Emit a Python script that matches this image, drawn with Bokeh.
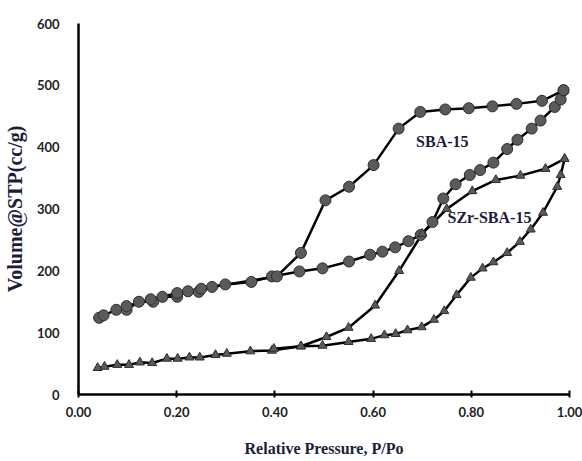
from bokeh.plotting import figure
from bokeh.models import Range1d, Label, FixedTicker
from bokeh.embed import file_html
from bokeh.resources import INLINE

# SBA-15 adsorption branch
sba_ads_x = [0.042, 0.051, 0.077, 0.098, 0.123, 0.152, 0.171, 0.201, 0.223, 0.245, 0.272, 0.299,
             0.352, 0.394, 0.450, 0.497, 0.551, 0.594, 0.619, 0.645, 0.672, 0.697, 0.721, 0.743,
             0.768, 0.797, 0.818, 0.845, 0.873, 0.894, 0.923, 0.941, 0.970, 0.982, 0.988]
sba_ads_y = [124, 128, 137, 137, 150, 150, 158, 158, 167, 166, 174, 178,
             182, 191, 199, 204, 215, 226, 231, 238, 248, 258, 279, 317,
             340, 355, 363, 375, 397, 412, 430, 443, 465, 477, 492]
# SBA-15 desorption branch
sba_des_x = [0.988, 0.944, 0.892, 0.843, 0.795, 0.747, 0.696, 0.652, 0.601, 0.551, 0.503, 0.453,
             0.404, 0.250, 0.201, 0.147, 0.098]
sba_des_y = [492, 475, 470, 466, 463, 461, 457, 430, 371, 336, 314, 229,
             191, 171, 164, 154, 143]
# SZr-SBA-15 adsorption branch
szr_ads_x = [0.039, 0.053, 0.079, 0.103, 0.125, 0.150, 0.180, 0.202, 0.226, 0.247, 0.279, 0.302,
             0.350, 0.394, 0.453, 0.497, 0.550, 0.596, 0.623, 0.646, 0.670, 0.699, 0.724, 0.745,
             0.770, 0.799, 0.823, 0.845, 0.873, 0.899, 0.921, 0.946, 0.975, 0.982, 0.990]
szr_ads_y = [43, 45, 48, 48, 52, 51, 58, 58, 60, 60, 64, 66,
             70, 71, 78, 79, 85, 90, 96, 98, 104, 109, 121, 135,
             161, 189, 204, 214, 229, 247, 267, 294, 336, 355, 381]
# SZr-SBA-15 desorption branch
szr_des_x = [0.990, 0.951, 0.900, 0.850, 0.802, 0.750, 0.700, 0.653, 0.604, 0.550, 0.505, 0.453, 0.398]
szr_des_y = [381, 365, 354, 347, 329, 300, 260, 200, 144, 108, 93, 78, 74]

series_labels = ["SBA-15", "SZr-SBA-15"]
label_x = [0.741, 0.837]
label_y = [409, 286]

x_ticks = [0.0, 0.2, 0.4, 0.6, 0.8, 1.0]
y_ticks = [0, 100, 200, 300, 400, 500, 600]

p = figure(width=582, height=461, output_backend="svg", toolbar_location=None,
           x_range=Range1d(0, 1), y_range=Range1d(0, 600),
           min_border_left=78, min_border_right=13, min_border_top=23, min_border_bottom=67)
p.outline_line_color = None
p.xgrid.visible = False
p.ygrid.visible = False
p.background_fill_color = "white"
p.border_fill_color = "white"

TEXT = "#1c1c3a"

p.xaxis.ticker = FixedTicker(ticks=x_ticks)
p.yaxis.ticker = FixedTicker(ticks=y_ticks)
p.xaxis.major_label_overrides = {t: f"{t:.2f}" for t in x_ticks}
p.xaxis.minor_tick_line_color = None
p.yaxis.minor_tick_line_color = None
p.yaxis.major_tick_line_color = None
p.xaxis.major_tick_in = 4
p.xaxis.major_tick_out = 3
p.xaxis.major_tick_line_width = 2
p.xaxis.axis_line_width = 2.5
p.yaxis.axis_line_width = 2.5
for ax in (p.xaxis, p.yaxis):
    ax.major_label_text_font = "Lato"
    ax.major_label_text_font_style = "bold"
    ax.major_label_text_font_size = "13px"
    ax.major_label_text_color = "#222222"
    ax.axis_label_text_font = "Liberation Serif"
    ax.axis_label_text_font_style = "bold"
    ax.axis_label_text_color = TEXT
p.xaxis.axis_label_text_font_size = "16px"
p.yaxis.axis_label_text_font_size = "20px"
p.xaxis.major_label_standoff = 9
p.yaxis.major_label_standoff = 13
p.xaxis.axis_label = "Relative Pressure, P/Po"
p.yaxis.axis_label = "Volume@STP(cc/g)"
p.xaxis.axis_label_standoff = 20
p.yaxis.axis_label_standoff = 8

LINE_W = 2.5
FILL = "#5a5a5a"
EDGE = "#2e2e2e"

p.line(sba_ads_x, sba_ads_y, line_color="black", line_width=LINE_W)
p.line(sba_des_x, sba_des_y, line_color="black", line_width=LINE_W)
p.line(szr_ads_x, szr_ads_y, line_color="black", line_width=LINE_W)
p.line(szr_des_x, szr_des_y, line_color="black", line_width=LINE_W)

p.scatter(sba_ads_x, sba_ads_y, marker="circle", size=11, fill_color=FILL, line_color=EDGE, line_width=1)
p.scatter(sba_des_x, sba_des_y, marker="circle", size=11, fill_color=FILL, line_color=EDGE, line_width=1)
p.scatter(szr_ads_x, szr_ads_y, marker="triangle", size=9, fill_color=FILL, line_color=EDGE, line_width=1)
p.scatter(szr_des_x, szr_des_y, marker="triangle", size=9, fill_color=FILL, line_color=EDGE, line_width=1)

for t, lx, ly in zip(series_labels, label_x, label_y):
    p.add_layout(Label(x=lx, y=ly, text=t, text_font="Liberation Serif", text_font_style="bold",
                       text_font_size="16px", text_color=TEXT, text_align="center",
                       text_baseline="middle"))

open("out.html", "w").write(file_html(p, INLINE))
